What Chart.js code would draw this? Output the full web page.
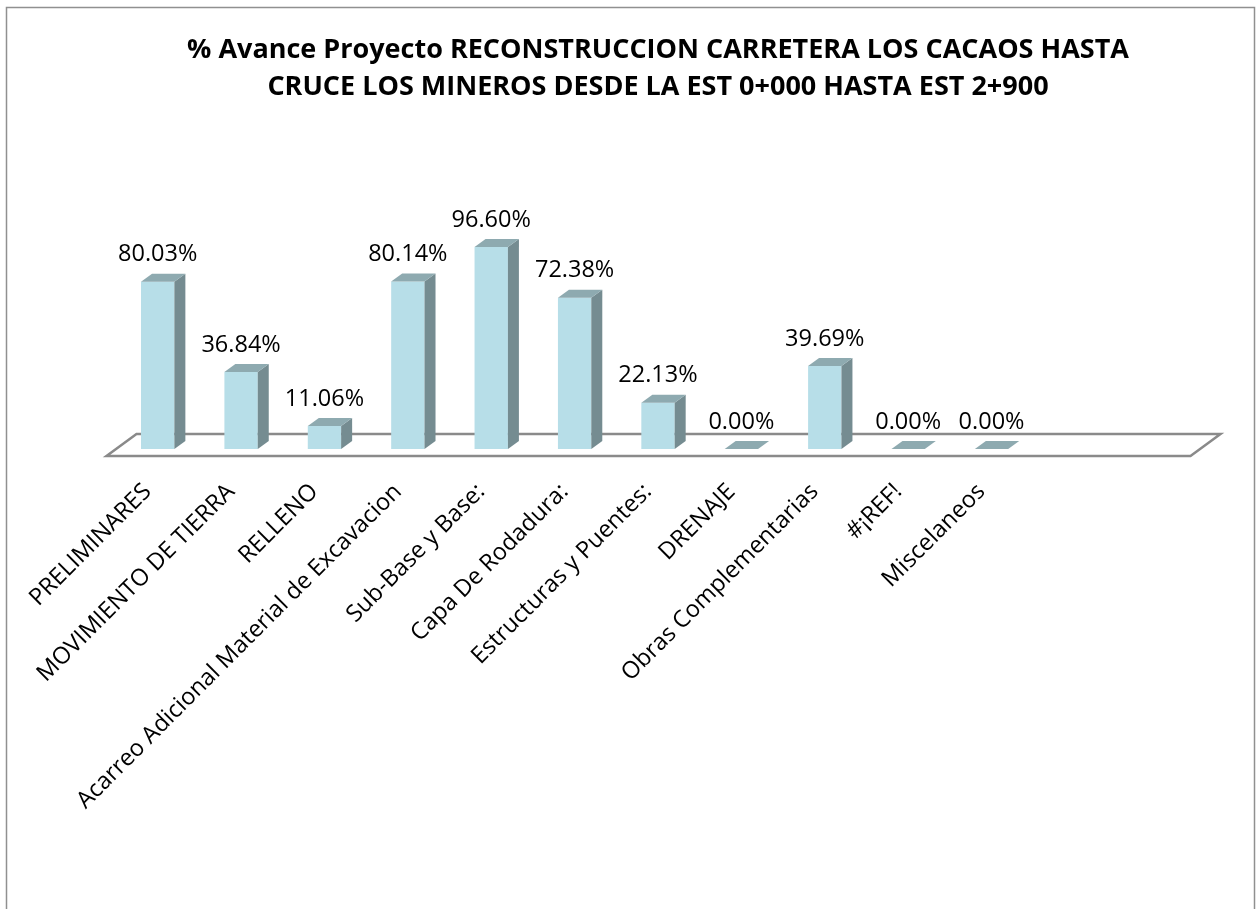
<!DOCTYPE html>
<html>
<head>
<meta charset="utf-8">
<script src="https://cdn.jsdelivr.net/npm/chart.js@4/dist/chart.umd.min.js"></script>
<style>
  html, body { margin: 0; padding: 0; background: #fff; overflow: hidden; }
  #wrap { position: relative; width: 1256px; height: 909px; }
</style>
</head>
<body>
<div id="wrap"><canvas id="chart"></canvas></div>
<script>
const titleLines = [
    '% Avance Proyecto RECONSTRUCCION CARRETERA LOS CACAOS HASTA',
    'CRUCE LOS MINEROS DESDE LA EST 0+000 HASTA EST 2+900'
];
// the floor of the original holds 13 slots, the last two are empty
const categories = [
    'PRELIMINARES', 'MOVIMIENTO DE TIERRA', 'RELLENO',
    'Acarreo Adicional Material de Excavacion', 'Sub-Base y Base:',
    'Capa De Rodadura:', 'Estructuras y Puentes:', 'DRENAJE',
    'Obras Complementarias', '#¡REF!', 'Miscelaneos', '', ''
];
const avance = [80.03, 36.84, 11.06, 80.14, 96.60, 72.38, 22.13, 0.00, 39.69, 0.00, 0.00, null, null];
const yMin = 0;
const yMax = 100;

const FONT = "'Open Sans'";
const FRONT = '#b7dee8';
const SIDE = '#758c91';
const TOP = '#8eaab0';
const DX = 11, DY = 8;

const frame = {
    id: 'frame',
    beforeDraw(chart) {
        const ctx = chart.ctx;
        ctx.save();
        ctx.fillStyle = '#fff';
        ctx.fillRect(0, 0, chart.width, chart.height);
        ctx.strokeStyle = '#909090';
        ctx.lineWidth = 1.5;
        ctx.strokeRect(6.5, 7.5, 1248, 960);
        ctx.restore();
    },
    beforeDatasetsDraw(chart) {
        // 3d floor under the bars
        const {ctx, chartArea} = chart;
        const b = chartArea.bottom;
        const fl = chartArea.left - 9.5, fr = chartArea.right - 9.5, fy = b + 7;
        const bl = chartArea.left + 20.5, br = chartArea.right + 20.5, by = b - 15;
        ctx.save();
        ctx.strokeStyle = '#8a8a8a';
        ctx.lineWidth = 2.5;
        ctx.beginPath();
        ctx.moveTo(fl, fy);
        ctx.lineTo(fr, fy);
        ctx.lineTo(br, by);
        ctx.lineTo(bl, by);
        ctx.closePath();
        ctx.stroke();
        ctx.restore();
    },
    afterDatasetsDraw(chart) {
        const ctx = chart.ctx;
        const meta = chart.getDatasetMeta(0);
        ctx.save();
        meta.data.forEach((bar, i) => {
            const v = avance[i];
            if (v === null) return;
            const {x, y, base, width} = bar.getProps(['x', 'y', 'base', 'width'], true);
            const l = x - width / 2, r = x + width / 2;
            // side
            if (base - y > 0.5) {
                ctx.fillStyle = SIDE;
                ctx.beginPath();
                ctx.moveTo(r, y);
                ctx.lineTo(r + DX, y - DY);
                ctx.lineTo(r + DX, base - DY);
                ctx.lineTo(r, base);
                ctx.closePath();
                ctx.fill();
            }
            // top
            ctx.fillStyle = TOP;
            ctx.beginPath();
            ctx.moveTo(l, y);
            ctx.lineTo(r, y);
            ctx.lineTo(r + DX, y - DY);
            ctx.lineTo(l + DX, y - DY);
            ctx.closePath();
            ctx.fill();
            // value label
            ctx.fillStyle = '#000';
            ctx.font = '23.5px ' + FONT;
            ctx.textAlign = 'center';
            ctx.textBaseline = 'middle';
            ctx.fillText(v.toFixed(2) + '%', x, y - 27);
        });
        ctx.restore();
    }
};

new Chart(document.getElementById('chart'), {
    type: 'bar',
    data: {
        labels: categories,
        datasets: [{
            data: avance,
            backgroundColor: FRONT,
            borderWidth: 0,
            categoryPercentage: 1,
            barPercentage: 0.4
        }]
    },
    options: {
        responsive: true,
        maintainAspectRatio: false,
        animation: false,
        layout: {padding: {left: 116, right: 56, top: 0, bottom: 0}},
        plugins: {
            legend: {display: false},
            tooltip: {enabled: false},
            title: {
                display: true,
                text: titleLines,
                color: '#000',
                font: {family: FONT, size: 27, weight: 'bold', lineHeight: '37px'},
                padding: {top: 32, bottom: 134}
            }
        },
        scales: {
            y: {display: false, min: yMin, max: yMax},
            x: {
                grid: {display: false},
                border: {display: false},
                ticks: {
                    color: '#000',
                    font: {family: FONT, size: 23.5},
                    minRotation: 45,
                    maxRotation: 45,
                    autoSkip: false,
                    padding: 21,
                    labelOffset: -10
                },
                afterFit: scale => { scale.height = 460; }
            }
        }
    },
    plugins: [frame]
});
</script>
</body>
</html>
